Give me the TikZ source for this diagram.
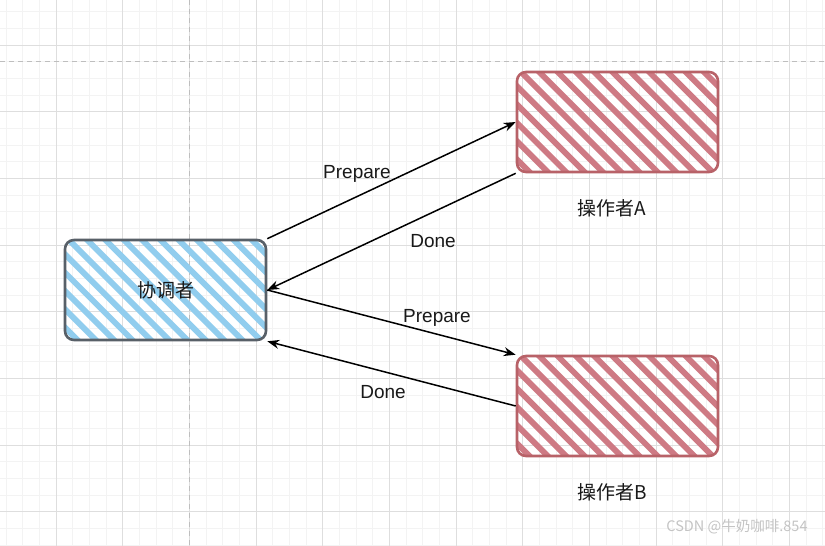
\documentclass[tikz,border=0pt]{standalone}
\usepackage{fontspec}
\setmainfont{Liberation Sans}
\newfontfamily\cjk{Noto Sans CJK SC}
\usetikzlibrary{arrows.meta,calc}

\definecolor{gridminor}{RGB}{243,243,243}
\definecolor{gridmajor}{RGB}{222,222,222}
\definecolor{dashgray}{RGB}{190,190,190}
\definecolor{bluehatch}{RGB}{145,205,238}
\definecolor{bluestroke}{RGB}{88,96,104}
\definecolor{redhatch}{RGB}{206,122,132}
\definecolor{redstroke}{RGB}{184,98,104}
\definecolor{wm}{RGB}{196,196,196}

\tikzset{
  gridmin/.style={gridminor, line width=1},
  gridmaj/.style={gridmajor, line width=1},
  guide/.style={dashgray, line width=1.2, dash pattern=on 5 off 4},
  hatchbox/.style n args={2}{draw=#2, line width=2.6, rounded corners=9,
    minimum width=201, minimum height=100, inner sep=0,
    path picture={
      \foreach \k in {-7,...,12}
        \draw[#1, line width=5.8, line cap=round]
          ($(path picture bounding box.north west)+(\k*18.3,-4)$) -- ++(112,112);
    }},
  lbl/.style={font=\fontsize{19}{23}\selectfont, text=black!90},
  cjklbl/.style={font=\cjk\fontsize{19}{23}\selectfont, text=black!90},
  conn/.style={line width=1.5, -{Stealth[length=12, width=9]}},
}

\begin{document}
\begin{tikzpicture}[x=1pt,y=-1pt]
\useasboundingbox (0,0) rectangle (825,546);
\fill[white] (0,0) rectangle (825,546);

% grid
\foreach \i in {0,...,49} \draw[gridmin] ({6+\i*16.6667},0) -- ++(0,546);
\foreach \j in {0,...,32} \draw[gridmin] (0,{11.667+\j*16.6667}) -- ++(825,0);
\foreach \i in {0,...,11} \draw[gridmaj] ({56+\i*66.6667},0) -- ++(0,546);
\foreach \j in {0,...,7} \draw[gridmaj] (0,{45+\j*66.6667}) -- ++(825,0);
\draw[guide] (189.5,0) -- (189.5,546);
\draw[guide] (0,61.67) -- (825,61.67);

% boxes
\node[hatchbox={bluehatch}{bluestroke}, cjklbl] (coord) at (165.5,290) {协调者};
\node[hatchbox={redhatch}{redstroke}] (opA) at (617.5,122) {};
\node[hatchbox={redhatch}{redstroke}] (opB) at (617.5,406) {};
\node[cjklbl] (labA) at (612,208) {操作者A};
\node[cjklbl] (labB) at (612,492) {操作者B};

% connectors
\draw[conn] (coord.north east) -- (opA.west);
\draw[conn] (opA.south west) -- (coord.east);
\draw[conn] (coord.east) -- (opB.north west);
\draw[conn] (opB.west) -- (coord.south east);

% connector labels
\node[lbl] (lp1) at (357,174) {Prepare};
\node[lbl] (ld1) at (433,241) {Done};
\node[lbl] (lp2) at (437,318) {Prepare};
\node[lbl] (ld2) at (383,392) {Done};

% watermark
\node[font=\cjk\fontsize{14.5}{17}\selectfont, text=wm] (wmk) at (737,527) {CSDN @牛奶咖啡.854};
\end{tikzpicture}
\end{document}
